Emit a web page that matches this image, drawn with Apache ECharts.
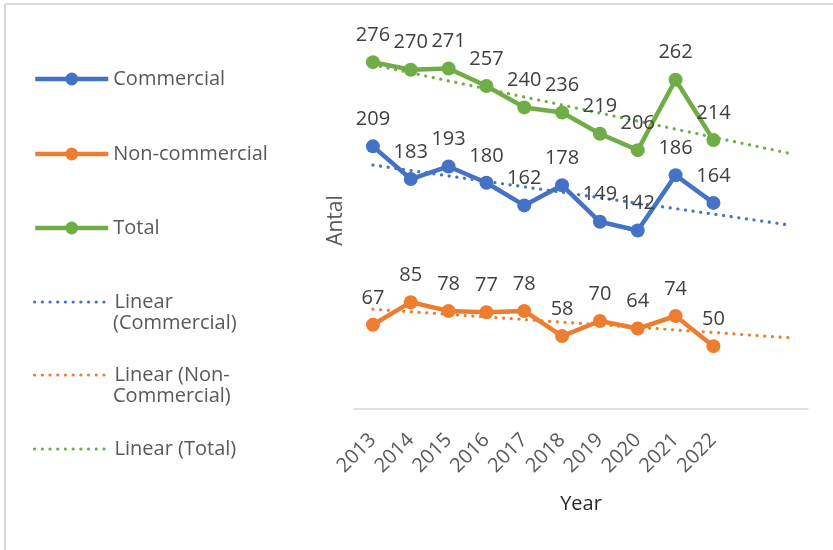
<!DOCTYPE html>
<html>
<head>
<meta charset="utf-8">
<script src="https://cdn.jsdelivr.net/npm/echarts@6/dist/echarts.min.js"></script>
<style>html,body{margin:0;padding:0;background:#fff}#c{width:833px;height:550px}</style>
</head>
<body>
<div id="c"></div>
<script>
// ---- data ----
var years = ['2013','2014','2015','2016','2017','2018','2019','2020','2021','2022'];
var forecastSlots = ['', '']; // trendline forecast periods (2 years forward)
var commercial = [209,183,193,180,162,178,149,142,186,164];
var nonCommercial = [67,85,78,77,78,58,70,64,74,50];
var total = [276,270,271,257,240,236,219,206,262,214];
// linear trendline endpoints (first year, end of forecast)
var trendCommercial = [194.1, 146.4];
var trendNonCommercial = [79.4, 56.7];
var trendTotal = [273.9, 203.5];
var legendNames = ['Commercial', 'Non-commercial', 'Total', 'Linear (Commercial)', 'Linear (Non-Commercial)', 'Linear (Total)'];

var FONT = '"Open Sans", "Noto Sans", sans-serif';
var TXT = '#595959';
var C_BLUE = '#4472C4', C_ORANGE = '#ED7D31', C_GREEN = '#70AD47';
var FS = 20;

function mainSeries(name, data, color) {
  return {
    name: name, type: 'line', data: data,
    symbol: 'circle', symbolSize: 14,
    lineStyle: { color: color, width: 4.5 },
    itemStyle: { color: color },
    label: { show: true, position: 'top', distance: 10, color: '#404040', fontSize: FS, fontFamily: FONT },
    z: 3, animation: false
  };
}
function trendSeries(name, ends, color) {
  var lastIdx = years.length + forecastSlots.length - 1;
  return {
    name: name, type: 'line', data: [[0, ends[0]], [lastIdx, ends[1]]],
    symbol: 'none', showSymbol: false,
    lineStyle: { color: color, width: 3.2, type: [0.1, 7.6], cap: 'round' },
    itemStyle: { color: color },
    z: 2, animation: false, silent: true
  };
}
function legendMain(name, top) {
  return {
    show: true, left: 33, top: top, padding: 0, orient: 'vertical',
    data: [name], itemWidth: 73, itemHeight: 16, selectedMode: false,
    lineStyle: { width: 4.5 },
    textStyle: { color: TXT, fontSize: FS, fontFamily: FONT }
  };
}
function legendTrend(name, top, text) {
  return {
    show: true, left: 33, top: top, padding: 0, orient: 'vertical',
    data: [{ name: name, itemStyle: { opacity: 0 } }], itemWidth: 71, itemHeight: 16, selectedMode: false,
    lineStyle: { width: 3.2 },
    formatter: function () { return text; },
    textStyle: { color: TXT, fontSize: FS, fontFamily: FONT, padding: [0, 0, 0, 4] }
  };
}

var chart = echarts.init(document.getElementById('c'), null, { renderer: 'canvas' });
chart.setOption({
  backgroundColor: '#fff',
  animation: false,
  grid: { left: 354, right: 25, top: 32, bottom: 141, containLabel: false },
  xAxis: {
    type: 'category', data: years.concat(forecastSlots), boundaryGap: true,
    axisLine: { show: true, lineStyle: { color: '#d9d9d9', width: 1.5 } },
    axisTick: { show: false },
    axisLabel: { rotate: 45, margin: 28, color: TXT, fontSize: FS, fontFamily: FONT, interval: 0 },
    name: 'Year', nameLocation: 'middle', nameGap: 85,
    nameTextStyle: { color: '#262626', fontSize: FS, fontFamily: FONT }
  },
  yAxis: {
    type: 'value', min: 0, max: 300,
    axisLine: { show: false }, axisTick: { show: false }, axisLabel: { show: false },
    splitLine: { show: false },
    name: 'Antal', nameLocation: 'middle', nameGap: 7, nameRotate: 90,
    nameTextStyle: { color: TXT, fontSize: 21, fontFamily: FONT }
  },
  legend: [
    legendMain(legendNames[0], 69),
    legendMain(legendNames[1], 144),
    legendMain(legendNames[2], 218),
    legendTrend(legendNames[3], 292, 'Linear'),
    legendTrend(legendNames[4], 365, 'Linear (Non-'),
    legendTrend(legendNames[5], 439, 'Linear (Total)')
  ],
  series: [
    mainSeries(legendNames[0], commercial, C_BLUE),
    mainSeries(legendNames[1], nonCommercial, C_ORANGE),
    mainSeries(legendNames[2], total, C_GREEN),
    trendSeries(legendNames[3], trendCommercial, C_BLUE),
    trendSeries(legendNames[4], trendNonCommercial, C_ORANGE),
    trendSeries(legendNames[5], trendTotal, C_GREEN)
  ],
  graphic: [
    { type: 'line', shape: { x1: 5, y1: 4, x2: 833, y2: 4 }, style: { stroke: '#d9d9d9', lineWidth: 2 }, silent: true },
    { type: 'line', shape: { x1: 5, y1: 4, x2: 5, y2: 550 }, style: { stroke: '#d9d9d9', lineWidth: 2 }, silent: true },
    { type: 'text', left: 113, top: 313, style: { text: '(Commercial)', fill: TXT, font: FS + 'px ' + FONT } },
    { type: 'text', left: 113, top: 386, style: { text: 'Commercial)', fill: TXT, font: FS + 'px ' + FONT } }
  ]
});
</script>
</body>
</html>
